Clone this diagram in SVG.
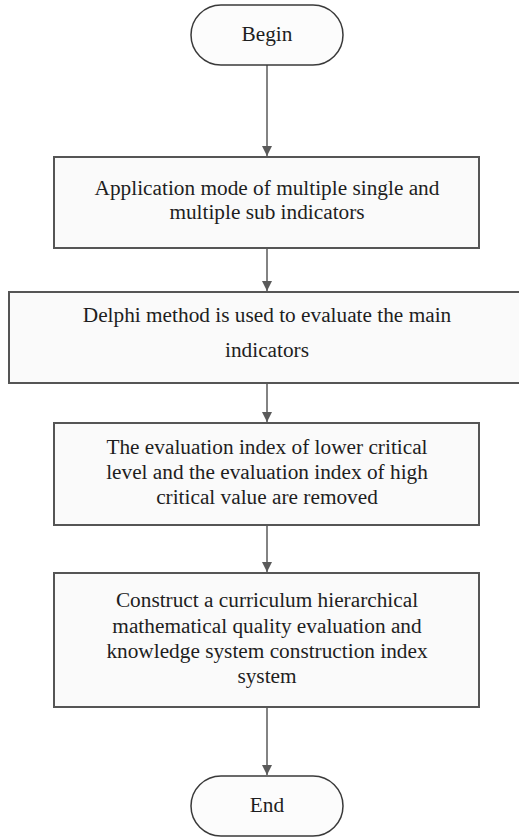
<svg xmlns="http://www.w3.org/2000/svg" width="519" height="837" viewBox="0 0 519 837">
  <style>
    .terminal { fill: #fcfcfc; stroke: #3a3a3a; stroke-width: 1.5; }
    .step { fill: #fafafa; stroke: #555555; stroke-width: 2; }
    .label { font-family: "Liberation Serif", "DejaVu Serif", serif; font-size: 21.3px; fill: #1e1e1e; text-anchor: middle; }
    .link { stroke: #5a5a5a; stroke-width: 1.5; fill: none; marker-end: url(#head); }
  </style>
  <defs>
    <marker id="head" viewBox="0 0 10 10" refX="10" refY="5" markerWidth="7" markerHeight="7" markerUnits="strokeWidth" orient="auto">
      <path d="M0,0 L10,5 L0,10 Z" fill="#5a5a5a"/>
    </marker>
  </defs>

  <rect x="0" y="0" width="519" height="837" fill="#ffffff"/>

  <!-- connectors -->
  <g id="connectors">
    <line class="link" x1="267" y1="65" x2="267" y2="156"/>
    <line class="link" x1="267" y1="248" x2="267" y2="291"/>
    <line class="link" x1="267" y1="384" x2="267" y2="422"/>
    <line class="link" x1="267" y1="526" x2="267" y2="572"/>
    <line class="link" x1="267" y1="708" x2="267" y2="775"/>
  </g>

  <g id="begin">
    <rect class="terminal" x="191" y="5" width="152" height="60" rx="30" ry="30"/>
    <text class="label" x="267" y="41">Begin</text>
  </g>

  <g id="step1">
    <rect class="step" x="54" y="157" width="425" height="91"/>
    <text class="label" x="267" y="195">Application mode of multiple single and</text>
    <text class="label" x="267" y="219">multiple sub indicators</text>
  </g>

  <g id="step2">
    <rect class="step" x="9" y="292" width="516" height="91"/>
    <text class="label" x="267" y="322">Delphi method is used to evaluate the main</text>
    <text class="label" x="267" y="357">indicators</text>
  </g>

  <g id="step3">
    <rect class="step" x="54" y="423" width="425" height="102"/>
    <text class="label" x="267" y="454">The evaluation index of lower critical</text>
    <text class="label" x="267" y="479">level and the evaluation index of high</text>
    <text class="label" x="267" y="504">critical value are removed</text>
  </g>

  <g id="step4">
    <rect class="step" x="54" y="573" width="425" height="134"/>
    <text class="label" x="267" y="607">Construct a curriculum hierarchical</text>
    <text class="label" x="267" y="633">mathematical quality evaluation and</text>
    <text class="label" x="267" y="658">knowledge system construction index</text>
    <text class="label" x="267" y="683">system</text>
  </g>

  <g id="end">
    <rect class="terminal" x="191" y="776" width="152" height="60" rx="30" ry="30"/>
    <text class="label" x="267" y="812">End</text>
  </g>
</svg>
